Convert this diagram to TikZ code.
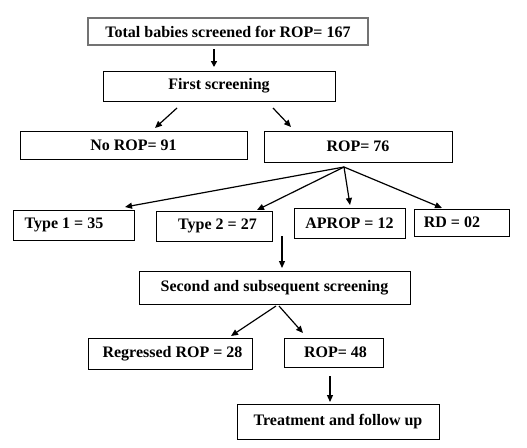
\documentclass[tikz,border=0pt]{standalone}
\usepackage{fontspec}
\setmainfont{Liberation Serif}
\usetikzlibrary{arrows.meta}
\begin{document}
\begin{tikzpicture}[x=1pt,y=-1pt,
  box/.style={draw=black, line width=0.9pt, inner sep=0pt, font=\fontsize{16}{18}\selectfont\bfseries},
  arr/.style={line width=1.2pt, -{Triangle[length=7pt,width=6pt]}},
  thickarr/.style={line width=2pt, -{Triangle[length=6pt,width=6pt]}}]
\useasboundingbox (0,0) rectangle (527,447);
\fill[white] (0,0) rectangle (527,447);
% boxes
\node[box, draw=black!55, line width=1.6pt, minimum width=280pt, minimum height=27pt] (total) at (228,31.5) {Total babies screened for ROP= 167};
\node[box, minimum width=232pt, minimum height=30pt] (first) at (219,86) {First screening};
\node[box, minimum width=227pt, minimum height=28pt] (norop) at (133.5,145) {No ROP= 91};
\node[box, minimum width=188pt, minimum height=31pt] (rop) at (358,146.5) {ROP= 76};
\node[box, minimum width=121pt, minimum height=30pt] (t1) at (73.5,225) {Type 1 = 35\hspace*{19pt}};
\node[box, minimum width=116pt, minimum height=30pt] (t2) at (214,226) {\hspace*{7pt}Type 2 = 27};
\node[box, minimum width=111pt, minimum height=30pt] (aprop) at (349.5,223) {APROP = 12};
\node[box, minimum width=95pt, minimum height=27pt] (rd) at (461.5,222.5) {RD = 02\hspace*{19pt}};
\node[box, minimum width=271pt, minimum height=33pt] (second) at (274.5,287.5) {Second and subsequent screening};
\node[box, minimum width=164pt, minimum height=31pt] (regr) at (170,353.5) {\hspace*{5pt}Regressed ROP = 28};
\node[box, minimum width=99pt, minimum height=29pt] (rop48) at (333.5,352.5) {\hspace*{4pt}ROP= 48};
\node[box, minimum width=202pt, minimum height=35pt] (treat) at (338,421.5) {Treatment and follow up};
% connector end points
\coordinate (a1s) at (214,49); \coordinate (a1e) at (214,67);
\coordinate (a2s) at (177,108); \coordinate (a2e) at (155,128);
\coordinate (a3s) at (273,108); \coordinate (a3e) at (291,127);
\coordinate (fan) at (344,167);
\coordinate (f1) at (125,207); \coordinate (f2) at (257,210);
\coordinate (f3) at (350,205); \coordinate (f4) at (442,208);
\coordinate (a4s) at (282,236); \coordinate (a4e) at (282,268);
\coordinate (a5s) at (276,306); \coordinate (a5e) at (231,336);
\coordinate (a6s) at (279,306); \coordinate (a6e) at (303,333);
\coordinate (a7s) at (330,376); \coordinate (a7e) at (330,402);
% connectors
\draw[thickarr] (a1s) -- (a1e);
\draw[arr] (a2s) -- (a2e);
\draw[arr] (a3s) -- (a3e);
\draw[arr] (fan) -- (f1);
\draw[arr] (fan) -- (f2);
\draw[arr] (fan) -- (f3);
\draw[arr] (fan) -- (f4);
\draw[arr] (a4s) -- (a4e);
\draw[arr] (a5s) -- (a5e);
\draw[arr] (a6s) -- (a6e);
\draw[arr] (a7s) -- (a7e);
\end{tikzpicture}
\end{document}
